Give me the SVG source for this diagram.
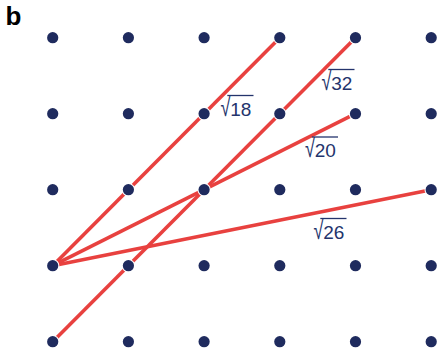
<svg xmlns="http://www.w3.org/2000/svg" width="437" height="353" viewBox="0 0 437 353">
<style>
.dot{fill:#1f2b5e;stroke:#ffffff;stroke-width:2.2;paint-order:stroke}
.seg{stroke:#e8413f;stroke-width:3.6;stroke-linecap:butt;fill:none}
.lbl{font-family:"Liberation Sans",Arial,sans-serif;font-size:19px;fill:#24346c}
.rad{font-family:"Liberation Sans",Arial,sans-serif;font-size:18px;fill:#24346c}
.bar{stroke:#24346c;stroke-width:1.3}
.title{font-family:"Liberation Sans",Arial,sans-serif;font-size:26px;font-weight:bold;fill:#000}
</style>
<rect width="437" height="353" fill="#ffffff"/>
<text class="title" x="5.5" y="25">b</text>
<g id="connectors">
<line class="seg" x1="52.7" y1="265.7" x2="279.8" y2="37.7"/>
<line class="seg" x1="52.7" y1="341.7" x2="355.5" y2="37.7"/>
<line class="seg" x1="52.7" y1="265.7" x2="355.5" y2="113.7"/>
<line class="seg" x1="52.7" y1="265.7" x2="431.2" y2="189.7"/>
</g>
<g id="grid">
<g id="row0">
<circle class="dot" cx="52.7" cy="37.7" r="5.6"/><circle class="dot" cx="128.4" cy="37.7" r="5.6"/><circle class="dot" cx="204.1" cy="37.7" r="5.6"/><circle class="dot" cx="279.8" cy="37.7" r="5.6"/><circle class="dot" cx="355.5" cy="37.7" r="5.6"/><circle class="dot" cx="431.2" cy="37.7" r="5.6"/>
</g>
<g id="row1">
<circle class="dot" cx="52.7" cy="113.7" r="5.6"/><circle class="dot" cx="128.4" cy="113.7" r="5.6"/><circle class="dot" cx="204.1" cy="113.7" r="5.6"/><circle class="dot" cx="279.8" cy="113.7" r="5.6"/><circle class="dot" cx="355.5" cy="113.7" r="5.6"/><circle class="dot" cx="431.2" cy="113.7" r="5.6"/>
</g>
<g id="row2">
<circle class="dot" cx="52.7" cy="189.7" r="5.6"/><circle class="dot" cx="128.4" cy="189.7" r="5.6"/><circle class="dot" cx="204.1" cy="189.7" r="5.6"/><circle class="dot" cx="279.8" cy="189.7" r="5.6"/><circle class="dot" cx="355.5" cy="189.7" r="5.6"/><circle class="dot" cx="431.2" cy="189.7" r="5.6"/>
</g>
<g id="row3">
<circle class="dot" cx="52.7" cy="265.7" r="5.6"/><circle class="dot" cx="128.4" cy="265.7" r="5.6"/><circle class="dot" cx="204.1" cy="265.7" r="5.6"/><circle class="dot" cx="279.8" cy="265.7" r="5.6"/><circle class="dot" cx="355.5" cy="265.7" r="5.6"/><circle class="dot" cx="431.2" cy="265.7" r="5.6"/>
</g>
<g id="row4">
<circle class="dot" cx="52.7" cy="341.7" r="5.6"/><circle class="dot" cx="128.4" cy="341.7" r="5.6"/><circle class="dot" cx="204.1" cy="341.7" r="5.6"/><circle class="dot" cx="279.8" cy="341.7" r="5.6"/><circle class="dot" cx="355.5" cy="341.7" r="5.6"/><circle class="dot" cx="431.2" cy="341.7" r="5.6"/>
</g>
</g>
<g id="label-18" transform="translate(220.5,115.5)"><text class="rad" transform="scale(1,1.4)">√</text><text class="lbl" x="9.8" y="0">18</text><line class="bar" x1="6.8" y1="-20" x2="33" y2="-20"/></g>
<g id="label-32" transform="translate(321.5,89.5)"><text class="rad" transform="scale(1,1.4)">√</text><text class="lbl" x="9.8" y="0">32</text><line class="bar" x1="6.8" y1="-20" x2="33" y2="-20"/></g>
<g id="label-20" transform="translate(305,157)"><text class="rad" transform="scale(1,1.4)">√</text><text class="lbl" x="9.8" y="0">20</text><line class="bar" x1="6.8" y1="-20" x2="33" y2="-20"/></g>
<g id="label-26" transform="translate(313.5,238.5)"><text class="rad" transform="scale(1,1.4)">√</text><text class="lbl" x="9.8" y="0">26</text><line class="bar" x1="6.8" y1="-20" x2="33" y2="-20"/></g>
</svg>
